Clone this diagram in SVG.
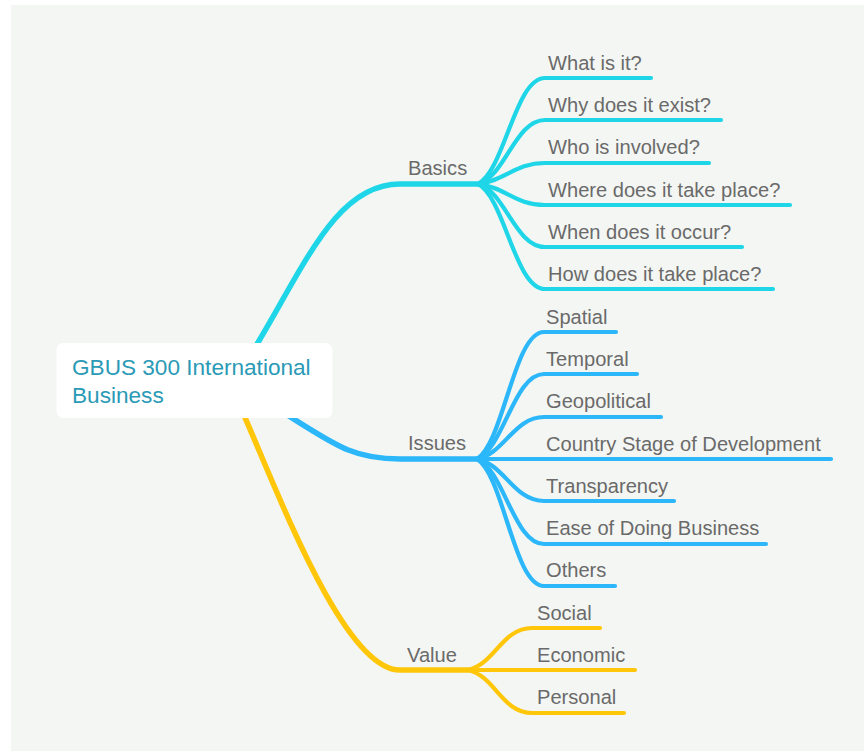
<svg xmlns="http://www.w3.org/2000/svg" width="864" height="751" viewBox="0 0 864 751">
<style>
.t{font-family:"Liberation Sans",Arial,sans-serif;font-size:20.1px;fill:#6a6a6a}
.root{font-family:"Liberation Sans",Arial,sans-serif;font-size:22.6px;fill:#2a9ab6}
.c{fill:none;stroke-linecap:round;stroke-linejoin:round}
.m{stroke-width:5.5}
.s{stroke-width:4.2}
.cy{stroke:#1fd6e8}
.bl{stroke:#2bb7fa}
.ye{stroke:#ffc60a}
</style>
<rect x="0" y="0" width="864" height="751" fill="#ffffff"/>
<rect x="11" y="5" width="853" height="746" fill="#f4f6f3"/>
<g id="connectors">
<path class="c m cy" d="M235 380 C300 280 330 184 400 184 L478 184"/>
<path class="c m bl" d="M255 395 C330 440 345 459 400 459 L477 459"/>
<path class="c m ye" d="M235 395 C270 470 340 670 400 670 L468 670"/>
<path class="c s cy" d="M478 184 C505 170 515 78 545 78 L651 78"/>
<path class="c s cy" d="M478 184 C505 177 515 120 545 120 L721 120"/>
<path class="c s cy" d="M478 184 C505 181 515 163 545 163 L709 163"/>
<path class="c s cy" d="M478 184 C505 187 515 205 545 205 L790 205"/>
<path class="c s cy" d="M478 184 C505 191 515 247 545 247 L742 247"/>
<path class="c s cy" d="M478 184 C505 198 515 289 545 289 L773 289"/>
<path class="c s bl" d="M477 459 C504 442 514 332 544 332 L616 332"/>
<path class="c s bl" d="M477 459 C504 448 514 374 544 374 L637 374"/>
<path class="c s bl" d="M477 459 C504 454 514 417 544 417 L661 417"/>
<path class="c s bl" d="M477 459 L831 459"/>
<path class="c s bl" d="M477 459 C504 464 514 501 544 501 L674 501"/>
<path class="c s bl" d="M477 459 C504 470 514 544 544 544 L766 544"/>
<path class="c s bl" d="M477 459 C504 476 514 586 544 586 L615 586"/>
<path class="c s ye" d="M468 670 C495 664 502 628 532 628 L600 628"/>
<path class="c s ye" d="M468 670 L635 670"/>
<path class="c s ye" d="M468 670 C495 676 502 713 532 713 L624 713"/>
</g>
<g id="root">
<rect x="56.5" y="343" width="276" height="75" rx="7" fill="#ffffff"/>
<text class="root" x="72" y="375">GBUS 300 International</text>
<text class="root" x="72" y="403">Business</text>
</g>
<g id="basics"><text class="t" x="408" y="175">Basics</text></g>
<g id="issues"><text class="t" x="408" y="450">Issues</text></g>
<g id="value"><text class="t" x="407" y="662">Value</text></g>
<g id="b1"><text class="t" x="548" y="70">What is it?</text></g>
<g id="b2"><text class="t" x="548" y="112">Why does it exist?</text></g>
<g id="b3"><text class="t" x="548" y="154">Who is involved?</text></g>
<g id="b4"><text class="t" x="548" y="196.5">Where does it take place?</text></g>
<g id="b5"><text class="t" x="548" y="239">When does it occur?</text></g>
<g id="b6"><text class="t" x="548" y="281">How does it take place?</text></g>
<g id="i1"><text class="t" x="546" y="324">Spatial</text></g>
<g id="i2"><text class="t" x="546" y="366">Temporal</text></g>
<g id="i3"><text class="t" x="546" y="408">Geopolitical</text></g>
<g id="i4"><text class="t" x="546" y="450.5">Country Stage of Development</text></g>
<g id="i5"><text class="t" x="546" y="493">Transparency</text></g>
<g id="i6"><text class="t" x="546" y="535">Ease of Doing Business</text></g>
<g id="i7"><text class="t" x="546" y="577">Others</text></g>
<g id="v1"><text class="t" x="537" y="620">Social</text></g>
<g id="v2"><text class="t" x="537" y="662">Economic</text></g>
<g id="v3"><text class="t" x="537" y="704">Personal</text></g>
</svg>
